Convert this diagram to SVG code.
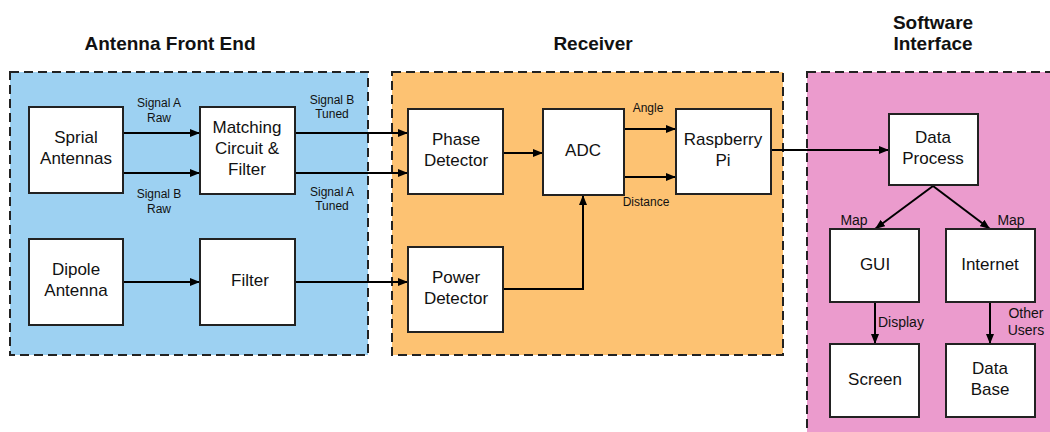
<svg xmlns="http://www.w3.org/2000/svg" width="1050" height="432" viewBox="0 0 1050 432">
<defs>
<marker id="ah" viewBox="0 0 10 8" refX="10" refY="4" markerWidth="10" markerHeight="8" markerUnits="userSpaceOnUse" orient="auto">
<path d="M0,0 L10,4 L0,8 Z" fill="#000"/>
</marker>
</defs>
<style>
.grp{stroke:#222;stroke-width:2;stroke-dasharray:9,5}
.box{fill:#fff;stroke:#222;stroke-width:2}
.t{font-family:"Liberation Sans",Arial,sans-serif;font-size:17px;fill:#111;text-anchor:middle}
.s{font-family:"Liberation Sans",Arial,sans-serif;font-size:12px;fill:#111;text-anchor:middle}
.m{font-family:"Liberation Sans",Arial,sans-serif;font-size:14px;fill:#111;text-anchor:middle}
.h{font-family:"Liberation Sans",Arial,sans-serif;font-size:19px;font-weight:bold;fill:#111;text-anchor:middle}
.c{stroke:#000;stroke-width:2;fill:none}
.a{marker-end:url(#ah)}
</style>
<rect width="1050" height="432" fill="#fff"/>
<g id="containers">
<rect class="grp" x="10" y="72" width="358" height="283" fill="#9dd1f2"/>
<rect class="grp" x="392" y="72" width="391" height="283" fill="#fdc272"/>
<rect class="grp" x="807" y="72" width="260" height="380" fill="#eb9bcd"/>
<text class="h" x="170" y="50">Antenna Front End</text>
<text class="h" x="593" y="50">Receiver</text>
<text class="h" x="933" y="29">Software</text>
<text class="h" x="933" y="50">Interface</text>
</g>
<g id="connectors">
<line class="c a" x1="123" y1="133" x2="200" y2="133"/>
<line class="c a" x1="123" y1="173" x2="200" y2="173"/>
<line class="c a" x1="123" y1="282" x2="200" y2="282"/>
<line class="c a" x1="295" y1="133" x2="408" y2="133"/>
<line class="c a" x1="295" y1="173" x2="408" y2="173"/>
<line class="c a" x1="295" y1="282" x2="408" y2="282"/>
<line class="c a" x1="503" y1="153" x2="543" y2="153"/>
<polyline class="c a" points="503,289 583,289 583,195"/>
<line class="c a" x1="624" y1="129" x2="676" y2="129"/>
<line class="c a" x1="624" y1="177" x2="676" y2="177"/>
<line class="c a" x1="771" y1="150" x2="889" y2="150"/>
<line class="c a" x1="933" y1="186" x2="875" y2="229"/>
<line class="c a" x1="933" y1="186" x2="990" y2="229"/>
<line class="c a" x1="875" y1="302" x2="875" y2="344"/>
<line class="c a" x1="990" y1="302" x2="990" y2="344"/>
<text class="s" x="159" y="107">Signal A</text>
<text class="s" x="159" y="122">Raw</text>
<text class="s" x="159" y="198">Signal B</text>
<text class="s" x="159" y="213">Raw</text>
<text class="s" x="332" y="104">Signal B</text>
<text class="s" x="332" y="118">Tuned</text>
<text class="s" x="332" y="196">Signal A</text>
<text class="s" x="332" y="210">Tuned</text>
<text class="s" x="648" y="112">Angle</text>
<text class="s" x="646" y="206">Distance</text>
<text class="m" x="854" y="225">Map</text>
<text class="m" x="1011" y="225">Map</text>
<text class="m" x="878" y="327" style="text-anchor:start">Display</text>
<text class="m" x="1026" y="318">Other</text>
<text class="m" x="1026" y="335">Users</text>
</g>
<g id="sprial"><rect class="box" x="29" y="107" width="94" height="86"/><text class="t" x="76" y="143">Sprial</text><text class="t" x="76" y="164">Antennas</text></g>
<g id="matching"><rect class="box" x="200" y="107" width="95" height="87"/><text class="t" x="247" y="133">Matching</text><text class="t" x="247" y="154">Circuit &amp;</text><text class="t" x="247" y="175">Filter</text></g>
<g id="dipole"><rect class="box" x="29" y="239" width="94" height="86"/><text class="t" x="76" y="275">Dipole</text><text class="t" x="76" y="296">Antenna</text></g>
<g id="filter"><rect class="box" x="200" y="239" width="95" height="86"/><text class="t" x="250" y="286">Filter</text></g>
<g id="phase"><rect class="box" x="408" y="109" width="95" height="85"/><text class="t" x="456" y="145">Phase</text><text class="t" x="456" y="166">Detector</text></g>
<g id="adc"><rect class="box" x="543" y="109" width="81" height="86"/><text class="t" x="583" y="156">ADC</text></g>
<g id="rpi"><rect class="box" x="676" y="109" width="95" height="85"/><text class="t" x="723" y="145">Raspberry</text><text class="t" x="723" y="166">Pi</text></g>
<g id="power"><rect class="box" x="408" y="247" width="95" height="85"/><text class="t" x="456" y="283">Power</text><text class="t" x="456" y="304">Detector</text></g>
<g id="dataprocess"><rect class="box" x="889" y="114" width="89" height="71"/><text class="t" x="933" y="143">Data</text><text class="t" x="933" y="164">Process</text></g>
<g id="gui"><rect class="box" x="830" y="229" width="89" height="73"/><text class="t" x="875" y="270">GUI</text></g>
<g id="internet"><rect class="box" x="946" y="229" width="89" height="73"/><text class="t" x="990" y="270">Internet</text></g>
<g id="screen"><rect class="box" x="830" y="344" width="89" height="73"/><text class="t" x="875" y="385">Screen</text></g>
<g id="database"><rect class="box" x="946" y="344" width="89" height="73"/><text class="t" x="990" y="374">Data</text><text class="t" x="990" y="395">Base</text></g>
</svg>
